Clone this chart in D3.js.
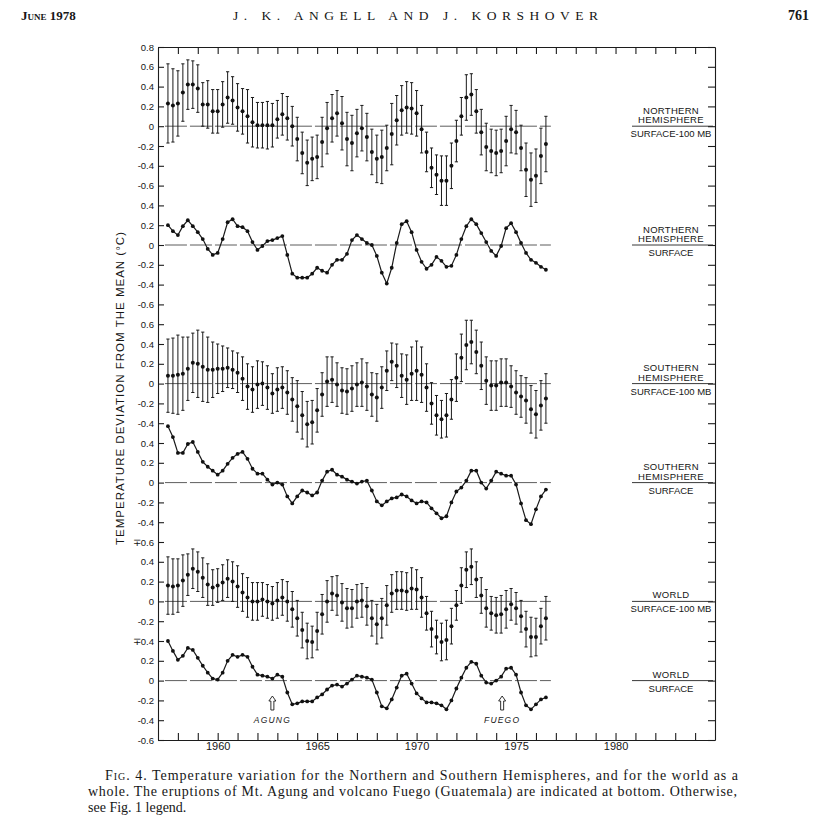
<!DOCTYPE html>
<html>
<head>
<meta charset="utf-8">
<script src="https://cdnjs.cloudflare.com/ajax/libs/d3/7.8.5/d3.min.js"></script>
<style>
  body { margin: 0; background: #fff; }
  text { fill: #161616; }
</style>
</head>
<body>
<div id="chart"></div>
<script>
// Seasonal values, first season centred on 1957.5, one every quarter year
const firstSeason = 1957.5;
const seasonStep = 0.25;

// Northern Hemisphere
const nhTrop = [0.23,0.21,0.23,0.34,0.42,0.42,0.38,0.22,0.22,0.15, 0.15,0.22,0.29,0.26,0.19,0.15,0.10,0.04,0.01,0.01,
  0.01,0.01,0.07,0.12,0.08,0.00,-0.13,-0.27,-0.37,-0.33, -0.31,-0.16,-0.02,0.08,0.13,0.03,-0.13,-0.17,-0.07,-0.02,
  -0.11,-0.26,-0.33,-0.31,-0.22,-0.08,0.06,0.16,0.19,0.18, 0.13,-0.03,-0.26,-0.42,-0.49,-0.55,-0.55,-0.40,-0.15,0.10,
  0.29,0.32,0.15,-0.06,-0.21,-0.25,-0.27,-0.25,-0.15,-0.03, -0.06,-0.22,-0.44,-0.54,-0.50,-0.30,-0.18];
const nhTropErr = [0.40,0.37,0.33,0.29,0.25,0.24,0.24,0.22,0.24,0.22, 0.22,0.23,0.26,0.24,0.24,0.23,0.27,0.25,0.23,0.23,
  0.24,0.22,0.19,0.21,0.22,0.20,0.22,0.21,0.23,0.22, 0.22,0.25,0.26,0.24,0.23,0.27,0.27,0.28,0.24,0.23,
  0.24,0.23,0.24,0.27,0.23,0.31,0.25,0.25,0.26,0.26, 0.23,0.24,0.20,0.20,0.20,0.25,0.25,0.23,0.21,0.19,
  0.23,0.21,0.22,0.23,0.24,0.22,0.23,0.22,0.25,0.24, 0.22,0.23,0.27,0.27,0.27,0.28,0.28];
const nhSfc = [0.20,0.14,0.10,0.19,0.25,0.19,0.13,0.06,-0.04,-0.10, -0.08,0.06,0.23,0.26,0.19,0.18,0.14,0.03,-0.05,-0.01,
  0.04,0.05,0.07,0.09,-0.10,-0.29,-0.33,-0.33,-0.33,-0.29, -0.23,-0.26,-0.28,-0.20,-0.15,-0.15,-0.09,0.05,0.10,0.06,
  0.02,0.00,-0.11,-0.28,-0.39,-0.23,0.02,0.21,0.24,0.13, -0.05,-0.17,-0.24,-0.20,-0.12,-0.16,-0.22,-0.21,-0.10,0.06,
  0.19,0.26,0.21,0.12,0.03,-0.06,-0.11,-0.01,0.17,0.22, 0.13,0.02,-0.08,-0.15,-0.18,-0.22,-0.25];

// Southern Hemisphere
const shTrop = [0.08,0.08,0.09,0.10,0.15,0.21,0.20,0.17,0.14,0.14, 0.15,0.15,0.16,0.14,0.11,0.05,-0.03,-0.06,-0.01,0.00,
  -0.04,-0.10,-0.06,-0.04,-0.09,-0.16,-0.23,-0.32,-0.41,-0.39, -0.27,-0.11,0.02,0.04,-0.01,-0.07,-0.08,-0.05,-0.01,0.01,
  -0.03,-0.11,-0.14,-0.04,0.13,0.22,0.18,0.08,0.04,0.10, 0.13,0.09,-0.04,-0.20,-0.32,-0.36,-0.32,-0.16,0.06,0.26,
  0.39,0.42,0.32,0.18,0.03,-0.02,-0.02,0.01,0.01,-0.03, -0.09,-0.13,-0.17,-0.26,-0.31,-0.22,-0.15];
const shTropErr = [0.37,0.38,0.40,0.37,0.32,0.30,0.34,0.35,0.33,0.28, 0.25,0.23,0.20,0.19,0.20,0.22,0.23,0.23,0.24,0.22,
  0.22,0.20,0.22,0.21,0.22,0.22,0.26,0.24,0.23,0.22, 0.22,0.22,0.25,0.23,0.22,0.23,0.23,0.23,0.22,0.24,
  0.24,0.22,0.24,0.21,0.20,0.19,0.22,0.22,0.25,0.27, 0.30,0.28,0.24,0.21,0.20,0.19,0.22,0.20,0.24,0.24,
  0.25,0.22,0.22,0.24,0.24,0.25,0.25,0.24,0.24,0.21, 0.22,0.21,0.23,0.24,0.24,0.25,0.25];
const shSfc = [0.57,0.46,0.30,0.30,0.39,0.41,0.31,0.21,0.16,0.12, 0.08,0.12,0.19,0.25,0.29,0.31,0.24,0.14,0.09,0.09,
  0.03,-0.02,0.00,-0.02,-0.14,-0.21,-0.14,-0.08,-0.10,-0.13, -0.10,0.02,0.11,0.13,0.08,0.06,0.03,0.01,-0.01,0.01,
  0.02,-0.08,-0.19,-0.23,-0.19,-0.16,-0.15,-0.12,-0.14,-0.18, -0.21,-0.19,-0.20,-0.26,-0.31,-0.36,-0.34,-0.20,-0.09,-0.05,
  0.02,0.12,0.12,0.00,-0.06,0.02,0.11,0.09,0.07,0.07, -0.02,-0.21,-0.38,-0.42,-0.27,-0.14,-0.07];

// World
const wTrop = [0.16,0.15,0.16,0.21,0.27,0.33,0.30,0.24,0.17,0.14, 0.16,0.19,0.23,0.20,0.15,0.09,0.04,0.00,0.00,0.02,
  0.00,-0.02,0.01,0.04,0.00,-0.08,-0.17,-0.29,-0.40,-0.41, -0.30,-0.13,0.00,0.08,0.06,-0.01,-0.07,-0.07,0.00,0.01,
  -0.05,-0.17,-0.23,-0.17,-0.04,0.08,0.11,0.11,0.10,0.13, 0.12,0.04,-0.12,-0.28,-0.36,-0.41,-0.39,-0.25,-0.04,0.16,
  0.32,0.35,0.22,0.06,-0.07,-0.12,-0.14,-0.13,-0.08,-0.03, -0.07,-0.15,-0.28,-0.36,-0.36,-0.25,-0.17];
const wTropErr = [0.29,0.28,0.27,0.26,0.21,0.20,0.20,0.20,0.21,0.18, 0.17,0.18,0.19,0.20,0.21,0.19,0.20,0.19,0.19,0.17,
  0.17,0.17,0.18,0.18,0.20,0.18,0.18,0.18,0.18,0.16, 0.19,0.20,0.21,0.17,0.20,0.19,0.20,0.19,0.17,0.17,
  0.19,0.18,0.20,0.20,0.20,0.19,0.19,0.19,0.19,0.21, 0.20,0.20,0.17,0.18,0.17,0.19,0.20,0.18,0.15,0.18,
  0.18,0.18,0.18,0.18,0.19,0.17,0.18,0.19,0.19,0.16, 0.16,0.16,0.18,0.20,0.19,0.18,0.22];
const wSfc = [0.40,0.30,0.21,0.25,0.33,0.31,0.23,0.15,0.08,0.02, 0.01,0.08,0.20,0.26,0.24,0.26,0.24,0.14,0.06,0.05,
  0.04,0.02,0.06,0.04,-0.12,-0.24,-0.23,-0.21,-0.21,-0.21, -0.17,-0.14,-0.09,-0.05,-0.04,-0.06,-0.03,0.01,0.05,0.04,
  0.03,0.01,-0.12,-0.26,-0.28,-0.19,-0.07,0.05,0.07,-0.03, -0.13,-0.18,-0.22,-0.22,-0.23,-0.25,-0.29,-0.20,-0.08,0.03,
  0.13,0.19,0.17,0.05,-0.02,-0.03,0.00,0.04,0.12,0.13, 0.06,-0.12,-0.25,-0.29,-0.24,-0.19,-0.17];

// Left axis labels, one per 0.2 step from top to bottom of the stacked frame
const yTickLabels = ["0.8","0.6","0.4","0.2","0","-0.2","-0.4","-0.6",
  "0.4","0.2","0","-0.2","-0.4","-0.6",
  "0.6","0.4","0.2","0","-0.2","-0.4",
  "0.4","0.2","0","-0.2","-0.4",
  "\u22130.6","0.4","0.2","0","-0.2",
  "\u22130.4","0.2","0","-0.2","-0.4","-0.6"];
const xLabelYears = [1960, 1965, 1970, 1975, 1980];

const panelNames = [["NORTHERN","HEMISPHERE","SURFACE-100 MB"], ["NORTHERN","HEMISPHERE","SURFACE"],
  ["SOUTHERN","HEMISPHERE","SURFACE-100 MB"], ["SOUTHERN","HEMISPHERE","SURFACE"],
  ["WORLD","SURFACE-100 MB"], ["WORLD","SURFACE"]];

const eruptions = ["AGUNG", "FUEGO"];
const eruptionYears = [1962.75, 1974.3];

// ---- layout ----
const width = 825, height = 829;
const frameLeft = 158, frameRight = 715, frameTop = 47, frameBottom = 740;

const panels = [
  { zeroSlot: 4,  values: nhTrop, err: nhTropErr, names: panelNames[0] },
  { zeroSlot: 10, values: nhSfc,  err: null,      names: panelNames[1] },
  { zeroSlot: 17, values: shTrop, err: shTropErr, names: panelNames[2] },
  { zeroSlot: 22, values: shSfc,  err: null,      names: panelNames[3] },
  { zeroSlot: 28, values: wTrop,  err: wTropErr,  names: panelNames[4] },
  { zeroSlot: 32, values: wSfc,   err: null,      names: panelNames[5] }
];

const svg = d3.select("#chart").append("svg")
  .attr("width", width)
  .attr("height", height)
  .style("font-family", "'Liberation Sans', Arial, sans-serif");

const x = d3.scaleLinear().domain([1957, 1985]).range([frameLeft, frameRight]);
const slot = d3.scaleLinear().domain([0, yTickLabels.length - 1]).range([frameTop, frameBottom]);
const season = i => firstSeason + i * seasonStep;

// frame and axes
const years = d3.range(1958, 1985);

svg.append("g")
  .attr("transform", `translate(0,${frameBottom})`)
  .call(d3.axisBottom(x).tickValues(years).tickSize(-7).tickSizeOuter(0).tickPadding(2)
    .tickFormat(d => xLabelYears.includes(d) ? d : ""))
  .call(g => g.selectAll("text").attr("font-size", 11));

svg.append("g")
  .attr("transform", `translate(0,${frameTop})`)
  .call(d3.axisTop(x).tickValues(years).tickSize(-7).tickSizeOuter(0).tickFormat(""));

svg.append("g")
  .attr("transform", `translate(${frameLeft},0)`)
  .call(d3.axisLeft(slot).tickValues(d3.range(yTickLabels.length)).tickSize(-6).tickSizeOuter(0)
    .tickPadding(4).tickFormat(i => yTickLabels[i]))
  .call(g => g.selectAll("text").attr("font-size", 9.5).attr("x", -4));

svg.append("g")
  .attr("transform", `translate(${frameRight},0)`)
  .call(d3.axisRight(slot).tickValues(d3.range(yTickLabels.length)).tickSize(-7).tickSizeOuter(0).tickFormat(""));

svg.selectAll(".domain, .tick line").attr("stroke", "#1c1c1c").attr("stroke-width", 1.1);

// panels
panels.forEach(p => {
  const y = d3.scaleLinear().domain([0, 0.2]).range([slot(p.zeroSlot), slot(p.zeroSlot - 1)]);
  const g = svg.append("g");

  // zero reference
  g.append("line")
    .attr("x1", x(1957.35)).attr("x2", x(1976.75))
    .attr("y1", y(0)).attr("y2", y(0))
    .attr("stroke", "#333").attr("stroke-width", 0.8)
    .attr("stroke-dasharray", "22,3");

  if (p.err) {
    const bars = g.selectAll(".bar").data(p.values).enter().append("g");
    bars.append("line")
      .attr("x1", (d, i) => x(season(i))).attr("x2", (d, i) => x(season(i)))
      .attr("y1", (d, i) => y(d + p.err[i])).attr("y2", (d, i) => y(d - p.err[i]))
      .attr("stroke", "#1a1a1a").attr("stroke-width", 1);
    [1, -1].forEach(s => {
      bars.append("line")
        .attr("x1", (d, i) => x(season(i)) - 1.6).attr("x2", (d, i) => x(season(i)) + 1.6)
        .attr("y1", (d, i) => y(d + s * p.err[i])).attr("y2", (d, i) => y(d + s * p.err[i]))
        .attr("stroke", "#1a1a1a").attr("stroke-width", 1);
    });
    g.selectAll("circle").data(p.values).enter().append("circle")
      .attr("cx", (d, i) => x(season(i))).attr("cy", d => y(d))
      .attr("r", 2).attr("fill", "#111");
  } else {
    g.append("path")
      .datum(p.values)
      .attr("fill", "none").attr("stroke", "#1a1a1a").attr("stroke-width", 1.2)
      .attr("d", d3.line().x((d, i) => x(season(i))).y(d => y(d)));
    g.selectAll("circle").data(p.values).enter().append("circle")
      .attr("cx", (d, i) => x(season(i))).attr("cy", d => y(d))
      .attr("r", 1.9).attr("fill", "#111");
  }

  // label at right, split by a rule on the zero level
  const lx = 671;
  g.append("line")
    .attr("x1", 632).attr("x2", 713).attr("y1", y(0)).attr("y2", y(0))
    .attr("stroke", "#222").attr("stroke-width", 0.9);
  const above = p.names.slice(0, -1);
  above.forEach((t, k) => {
    g.append("text")
      .attr("x", lx).attr("y", y(0) - 3 - (above.length - 1 - k) * 9.5)
      .attr("text-anchor", "middle").attr("font-size", 9.5).attr("letter-spacing", 0.3)
      .text(t);
  });
  g.append("text")
    .attr("x", lx).attr("y", y(0) + 11)
    .attr("text-anchor", "middle").attr("font-size", 9.5)
    .text(p.names[p.names.length - 1]);
});

// eruption arrows under the world surface curve
const arrowTop = 696;
eruptions.forEach((name, k) => {
  const ax = x(eruptionYears[k]);
  svg.append("path")
    .attr("d", `M${ax},${arrowTop} l-3.5,5 h2 v9 h3 v-9 h2 z`)
    .attr("fill", "#fff").attr("stroke", "#1a1a1a").attr("stroke-width", 0.9);
  svg.append("text")
    .attr("x", ax).attr("y", arrowTop + 27)
    .attr("text-anchor", "middle").attr("font-size", 8.5)
    .attr("font-style", "italic").attr("letter-spacing", 1.2)
    .text(name);
});

// y axis title
svg.append("text")
  .attr("transform", `translate(124,${(232 + 545) / 2}) rotate(-90)`)
  .attr("text-anchor", "middle").attr("font-size", 11.5)
  .attr("textLength", 313).attr("lengthAdjust", "spacing")
  .text("TEMPERATURE DEVIATION FROM THE MEAN (\u00B0C)");

// running head
const serif = "'Liberation Serif', 'Times New Roman', serif";
svg.append("text")
  .attr("x", 21).attr("y", 20).attr("font-family", serif).attr("font-size", 13)
  .attr("font-weight", "bold").style("font-variant", "small-caps")
  .text("June 1978");
svg.append("text")
  .attr("x", 233).attr("y", 20).attr("font-family", serif).attr("font-size", 13.5)
  .attr("textLength", 365).attr("lengthAdjust", "spacing")
  .text("J. K. ANGELL AND J. KORSHOVER");
svg.append("text")
  .attr("x", 809).attr("y", 20).attr("font-family", serif).attr("font-size", 14)
  .attr("font-weight", "bold").attr("text-anchor", "end")
  .text("761");

// caption
const cap1 = svg.append("text")
  .attr("x", 105).attr("y", 780).attr("font-family", serif).attr("font-size", 14)
  .attr("textLength", 633).attr("lengthAdjust", "spacing");
cap1.append("tspan").style("font-variant", "small-caps").text("Fig");
cap1.append("tspan").text(". 4. Temperature variation for the Northern and Southern Hemispheres, and for the world as a");
svg.append("text")
  .attr("x", 88).attr("y", 796).attr("font-family", serif).attr("font-size", 14)
  .attr("textLength", 649).attr("lengthAdjust", "spacing")
  .text("whole. The eruptions of Mt. Agung and volcano Fuego (Guatemala) are indicated at bottom. Otherwise,");
svg.append("text")
  .attr("x", 88).attr("y", 812).attr("font-family", serif).attr("font-size", 14)
  .text("see Fig. 1 legend.");
</script>
</body>
</html>
